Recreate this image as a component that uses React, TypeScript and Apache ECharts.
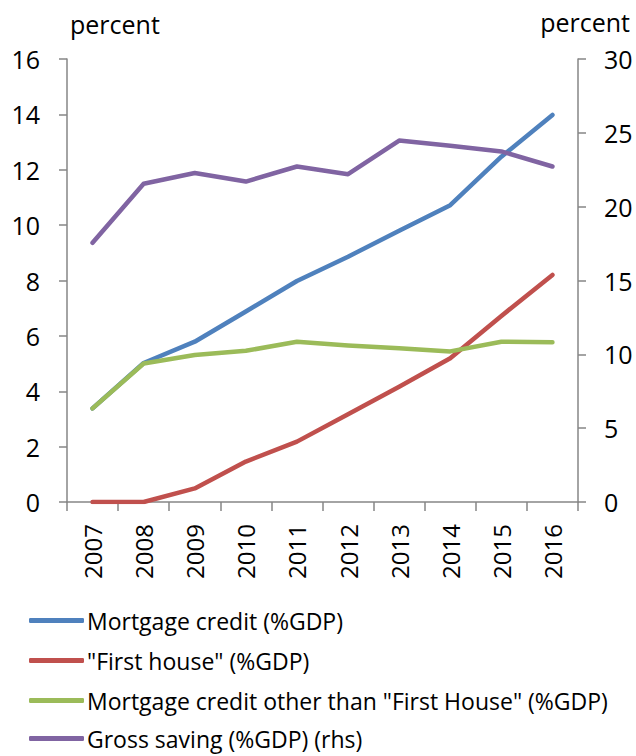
import React, { useEffect, useRef } from "react";
import * as echarts from "echarts";

const years = ["2007", "2008", "2009", "2010", "2011", "2012", "2013", "2014", "2015", "2016"];
const mortgageCredit = [3.38, 5.02, 5.79, 6.88, 7.98, 8.86, 9.8, 10.72, 12.47, 13.98];
const firstHouse = [0, 0, 0.49, 1.46, 2.18, 3.17, 4.16, 5.19, 6.72, 8.2];
const mortgageOther = [3.38, 5.0, 5.31, 5.46, 5.79, 5.65, 5.55, 5.44, 5.79, 5.77];
const grossSaving = [17.55, 21.55, 22.28, 21.7, 22.72, 22.2, 24.48, 24.12, 23.74, 22.72];
const leftTicks = { min: 0, max: 16, interval: 2 };
const rightTicks = { min: 0, max: 30, interval: 5 };
const seriesNames = [
  "Mortgage credit (%GDP)",
  "\"First house\" (%GDP)",
  "Mortgage credit other than \"First House\" (%GDP)",
  "Gross saving (%GDP) (rhs)",
];
const colors = ["#4F81BD", "#C0504D", "#9BBB59", "#8064A2"];

const FONT = "Open Sans";
const AXIS = "#868686";
const legendTops = [609, 649, 689, 727];

export default function App() {
  const ref = useRef<HTMLDivElement>(null);
  useEffect(() => {
    if (!ref.current) return;
    const chart = echarts.init(ref.current, null, { renderer: "svg" });
    const lineSeries = (name: string, data: number[], color: string, yAxisIndex = 0) => ({
      name,
      type: "line",
      data,
      yAxisIndex,
      symbol: "none",
      lineStyle: { color, width: 4.5, cap: "round", join: "round" },
      itemStyle: { color },
    });
    chart.setOption({
      animation: false,
      backgroundColor: "#ffffff",
      textStyle: { fontFamily: FONT, color: "#000" },
      grid: { left: 67, right: 58, top: 59, bottom: 254, containLabel: false },
      graphic: [
        { type: "text", left: 70, top: 11, style: { text: "percent", font: `25px '${FONT}'`, fill: "#000" } },
        { type: "text", right: 6, top: 9, style: { text: "percent", font: `25px '${FONT}'`, fill: "#000" } },
      ],
      legend: seriesNames.map((name, i) => ({
        orient: "vertical",
        left: 29,
        top: legendTops[i],
        padding: 0,
        itemWidth: 55,
        itemHeight: 5,
        icon: "roundRect",
        textStyle: { fontFamily: FONT, fontSize: 23, color: "#000", lineHeight: 22, padding: [0, 0, 0, -2] },
        data: [name],
      })),
      xAxis: {
        type: "category",
        data: years,
        boundaryGap: true,
        axisLine: { lineStyle: { color: AXIS, width: 1.5 } },
        axisTick: { show: true, length: 9, lineStyle: { color: AXIS, width: 1.5 } },
        axisLabel: { rotate: 90, margin: 22, fontSize: 24, color: "#000", fontFamily: FONT, interval: 0 },
      },
      yAxis: [
        {
          type: "value",
          ...leftTicks,
          position: "left",
          axisLine: { show: true, lineStyle: { color: AXIS, width: 1.5 } },
          axisTick: { show: true, length: 8, lineStyle: { color: AXIS, width: 1.5 } },
          axisLabel: { margin: 27, fontSize: 25, color: "#000", fontFamily: FONT },
          splitLine: { show: false },
        },
        {
          type: "value",
          ...rightTicks,
          position: "right",
          axisLine: { show: true, lineStyle: { color: AXIS, width: 1.5 } },
          axisTick: { show: true, length: 8, lineStyle: { color: AXIS, width: 1.5 } },
          axisLabel: { margin: 26, fontSize: 25, color: "#000", fontFamily: FONT },
          splitLine: { show: false },
        },
      ],
      series: [
        lineSeries(seriesNames[0], mortgageCredit, colors[0]),
        lineSeries(seriesNames[1], firstHouse, colors[1]),
        lineSeries(seriesNames[2], mortgageOther, colors[2]),
        lineSeries(seriesNames[3], grossSaving, colors[3], 1),
      ],
    });
    return () => chart.dispose();
  }, []);
  return (
    <div
      ref={ref}
      style={{ position: "fixed", left: 0, top: 0, width: 636, height: 756, background: "#fff" }}
    />
  );
}
